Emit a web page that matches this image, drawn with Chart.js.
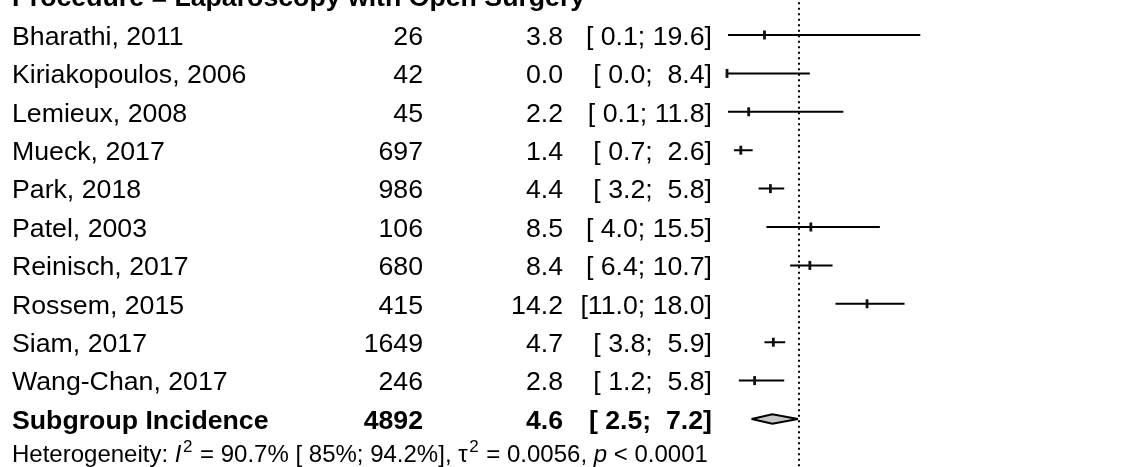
<!DOCTYPE html>
<html>
<head>
<meta charset="utf-8">
<script src="https://cdn.jsdelivr.net/npm/chart.js@4/dist/chart.umd.min.js"></script>
<style>
  html, body { margin: 0; padding: 0; background: #fff; overflow: hidden; }
  canvas { display: block; }
</style>
</head>
<body>
<canvas id="forest" width="1132" height="467"></canvas>
<script>
// Subgroup: laparoscopy with open surgery
const subgroupTitle = 'Procedure = Laparoscopy with Open Surgery';
const studies = ['Bharathi, 2011', 'Kiriakopoulos, 2006', 'Lemieux, 2008', 'Mueck, 2017', 'Park, 2018',
                 'Patel, 2003', 'Reinisch, 2017', 'Rossem, 2015', 'Siam, 2017', 'Wang-Chan, 2017'];
const totals    = [26, 42, 45, 697, 986, 106, 680, 415, 1649, 246];
const estimates = [3.8, 0.0, 2.2, 1.4, 4.4, 8.5, 8.4, 14.2, 4.7, 2.8];
const lower     = [0.1, 0.0, 0.1, 0.7, 3.2, 4.0, 6.4, 11.0, 3.8, 1.2];
const upper     = [19.6, 8.4, 11.8, 2.6, 5.8, 15.5, 10.7, 18.0, 5.9, 5.8];

const pooledLabel = 'Subgroup Incidence';
const pooledTotal = 4892;
const pooledEstimate = 4.6;
const pooledLower = 2.5;
const pooledUpper = 7.2;

// overall incidence shown as the dotted reference line
const referenceValue = 7.3;

const xRange = [0, 20];

const heterogeneity = [
  { t: 'Heterogeneity: ' },
  { t: 'I', italic: true },
  { t: '2', sup: true },
  { t: ' = 90.7% [ 85%; 94.2%], ' },
  { t: '\u03C4' },
  { t: '2', sup: true },
  { t: ' = 0.0056, ' },
  { t: 'p', italic: true },
  { t: ' < 0.0001' }
];

const FONT = '"Liberation Sans", Arial, Helvetica, sans-serif';
const pooledRow = studies.length;

// datasets built from the arrays above
const ciSegments = [];
studies.forEach((s, i) => {
  ciSegments.push({ x: lower[i], y: i }, { x: upper[i], y: i }, { x: null, y: null });
});
const pointData = estimates.map((e, i) => ({ x: e, y: i }));
const dh = 0.125;
// pooled diamond outline: upper and lower half
const diamondTop = [
  { x: pooledLower, y: pooledRow },
  { x: pooledEstimate, y: pooledRow - dh },
  { x: pooledUpper, y: pooledRow }
];
const diamondBottom = [
  { x: pooledLower, y: pooledRow },
  { x: pooledEstimate, y: pooledRow + dh },
  { x: pooledUpper, y: pooledRow }
];
const refLine = [{ x: referenceValue, y: -2 }, { x: referenceValue, y: 13 }];

const fmt = v => v.toFixed(1);
const pad = (s, n) => ' '.repeat(Math.max(0, n - s.length)) + s;
const ciText = (lo, hi) => '[' + pad(fmt(lo), 4) + '; ' + pad(fmt(hi), 4) + ']';

// grey fill inside the diamond, using the positions of the two outline datasets
const diamondFill = {
  id: 'diamondFill',
  beforeDatasetsDraw(chart) {
    const top = chart.getDatasetMeta(3).data;
    const bottom = chart.getDatasetMeta(4).data;
    const ctx = chart.ctx;
    ctx.save();
    ctx.beginPath();
    top.forEach((p, k) => (k ? ctx.lineTo(p.x, p.y) : ctx.moveTo(p.x, p.y)));
    for (let k = bottom.length - 1; k >= 0; k--) ctx.lineTo(bottom[k].x, bottom[k].y);
    ctx.closePath();
    ctx.fillStyle = '#c6c6c6';
    ctx.fill();
    ctx.restore();
  }
};

const tablePlugin = {
  id: 'forestTable',
  afterDatasetsDraw(chart) {
    const ctx = chart.ctx;
    const y = chart.scales.y;
    const size = 26.7;
    const base = v => y.getPixelForValue(v) + 9.8;
    ctx.save();
    ctx.fillStyle = '#000';
    ctx.textBaseline = 'alphabetic';

    // subgroup heading
    ctx.font = 'bold ' + size + 'px ' + FONT;
    ctx.textAlign = 'left';
    ctx.fillText(subgroupTitle, 12, base(-1));

    const row = (i, name, n, est, lo, hi, bold) => {
      ctx.font = (bold ? 'bold ' : '') + size + 'px ' + FONT;
      ctx.textAlign = 'left';
      ctx.fillText(name, 12, base(i));
      ctx.textAlign = 'right';
      ctx.fillText(String(n), 423, base(i));
      ctx.fillText(fmt(est), 563, base(i));
      ctx.fillText(ciText(lo, hi), 712, base(i));
    };
    studies.forEach((s, i) => row(i, s, totals[i], estimates[i], lower[i], upper[i], false));
    row(pooledRow, pooledLabel, pooledTotal, pooledEstimate, pooledLower, pooledUpper, true);

    // heterogeneity statistics
    const hs = 24;
    let x = 12;
    const hb = 462;
    ctx.textAlign = 'left';
    heterogeneity.forEach(seg => {
      if (seg.sup) {
        ctx.font = Math.round(hs * 0.72) + 'px ' + FONT;
        ctx.fillText(seg.t, x + 1.5, hb - 10.5);
        x += ctx.measureText(seg.t).width + 2.5;
      } else {
        ctx.font = (seg.italic ? 'italic ' : '') + hs + 'px ' + FONT;
        ctx.fillText(seg.t, x, hb);
        x += ctx.measureText(seg.t).width;
      }
    });
    ctx.restore();
  }
};

const diamondStyle = {
  showLine: true,
  borderColor: '#000',
  borderWidth: 2,
  pointRadius: 0,
  tension: 0,
  clip: false,
  order: 1
};

new Chart(document.getElementById('forest'), {
  type: 'scatter',
  data: {
    datasets: [
      {
        label: 'reference',
        data: refLine,
        showLine: true,
        borderColor: '#000',
        borderWidth: 2,
        borderDash: [2, 3.5],
        pointRadius: 0,
        clip: false,
        order: 4
      },
      {
        label: 'ci',
        data: ciSegments,
        showLine: true,
        spanGaps: false,
        borderColor: '#000',
        borderWidth: 2,
        pointRadius: 0,
        clip: false,
        order: 3
      },
      {
        label: 'estimate',
        data: pointData,
        pointStyle: 'line',
        rotation: 90,
        radius: 4.5,
        borderWidth: 2.8,
        borderColor: '#111',
        backgroundColor: '#888',
        clip: false,
        order: 2
      },
      Object.assign({ label: 'pooled-top', data: diamondTop }, diamondStyle),
      Object.assign({ label: 'pooled-bottom', data: diamondBottom }, diamondStyle)
    ]
  },
  options: {
    responsive: false,
    animation: false,
    events: [],
    layout: { padding: { left: 727, right: 207.74, top: 35, bottom: 48 } },
    scales: {
      x: { type: 'linear', min: xRange[0], max: xRange[1], display: false },
      y: { type: 'linear', min: 0, max: pooledRow, reverse: true, display: false }
    },
    plugins: {
      legend: { display: false },
      tooltip: { enabled: false }
    }
  },
  plugins: [diamondFill, tablePlugin]
});
</script>
</body>
</html>
